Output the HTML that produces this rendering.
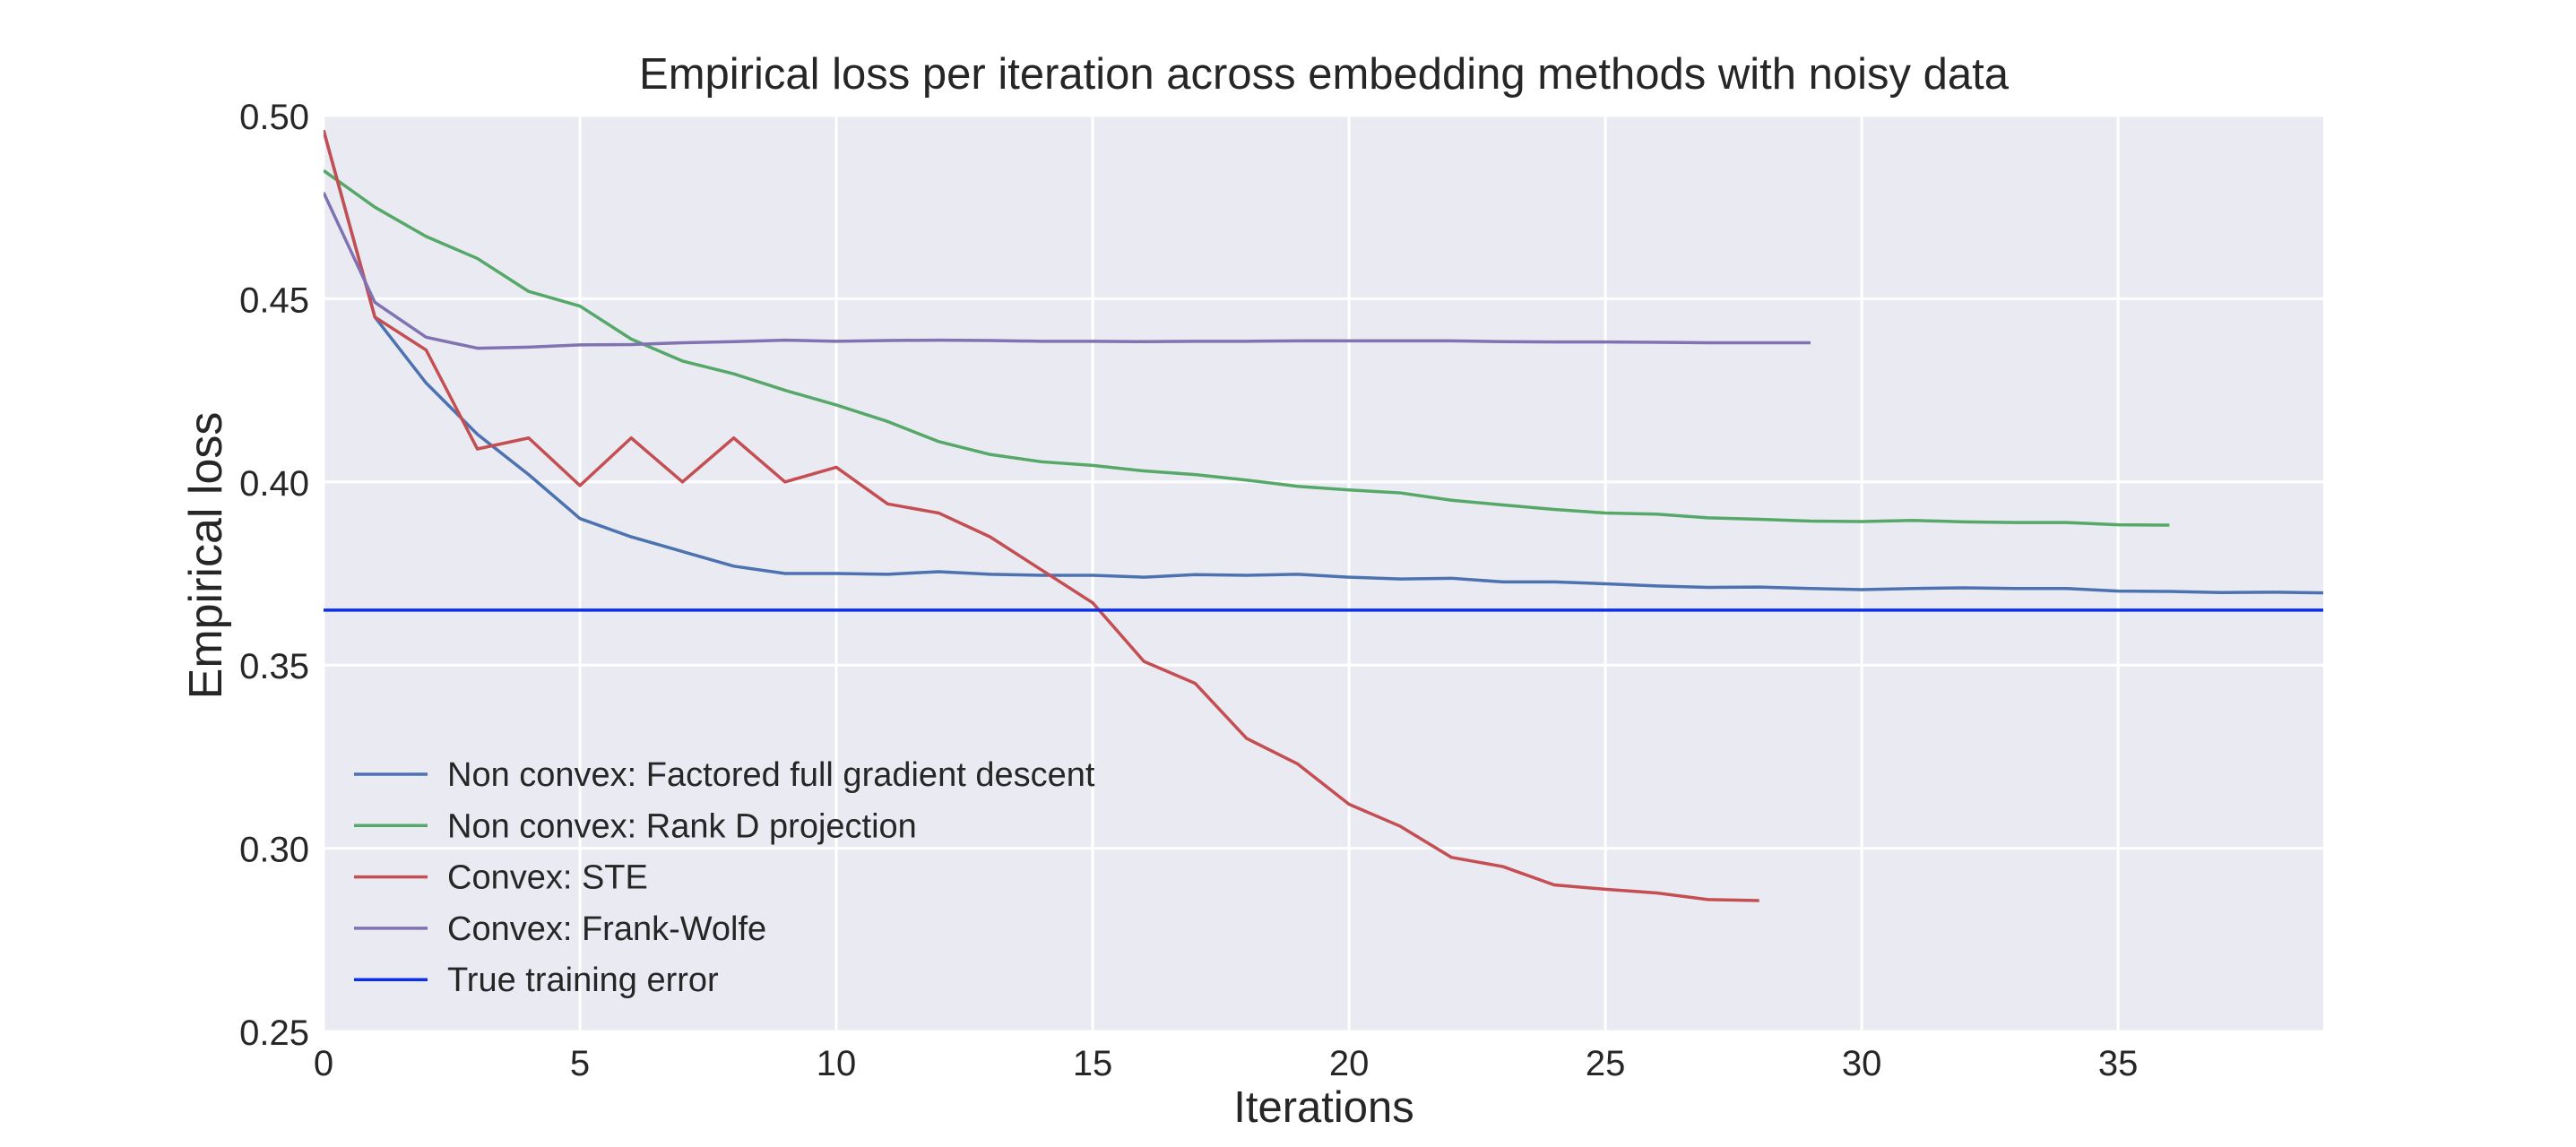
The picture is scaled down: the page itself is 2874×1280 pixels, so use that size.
<!DOCTYPE html>
<html><head><meta charset="utf-8"><style>
html,body{margin:0;padding:0;background:#fff;}
svg{display:block;font-family:"Liberation Sans",Arial,sans-serif;}
</style></head><body>
<svg id="chart" width="2874" height="1280" viewBox="0 0 2874 1280">
<rect x="361" y="129" width="2231" height="1022" fill="#eaeaf2"/>
<g id="grid"></g>
<g id="series"></g>
<g id="ticks"></g>
<text x="1477" y="99" font-size="49" text-anchor="middle" fill="#262626">Empirical loss per iteration across embedding methods with noisy data</text>
<text x="1477" y="1252" font-size="49" text-anchor="middle" fill="#262626">Iterations</text>
<text x="0" y="0" font-size="52" text-anchor="middle" fill="#262626" transform="translate(247,620) rotate(-90)">Empirical loss</text>
<g id="legend"></g>
</svg>
<script>
const xTicks=[0,5,10,15,20,25,30,35];
const yTicks=[0.25,0.30,0.35,0.40,0.45,0.50];
const seriesNames=["Non convex: Factored full gradient descent","Non convex: Rank D projection","Convex: STE","Convex: Frank-Wolfe","True training error"];
const seriesColors=["#4c72b0","#55a868","#c44e52","#8172b2","#0b2ff0"];
const blueVals=[.496,.445,.427,.413,.402,.390,.385,.381,.377,.375,.375,.3748,.3755,.3748,.3745,.3745,.374,.3747,.3745,.3748,.374,.3735,.3737,.3727,.3727,.3722,.3716,.3712,.3713,.3709,.3706,.3709,.3711,.3709,.3709,.3702,.3701,.3698,.3699,.3697];
const greenVals=[.485,.475,.467,.461,.452,.448,.439,.433,.4295,.425,.421,.4165,.411,.4075,.4055,.4045,.403,.402,.4005,.3988,.3978,.397,.395,.3937,.3925,.3915,.3912,.3902,.3898,.3893,.3892,.3895,.3891,.3889,.3889,.3883,.3882];
const redVals=[.496,.445,.436,.409,.412,.399,.412,.400,.412,.400,.404,.394,.3915,.385,.376,.367,.351,.345,.330,.323,.312,.306,.2975,.295,.290,.2888,.2878,.286,.2857];
const purpleVals=[.479,.449,.4395,.4365,.4368,.4374,.4375,.438,.4383,.4387,.4384,.4386,.4387,.4386,.4384,.4384,.4383,.4384,.4384,.4385,.4385,.4385,.4385,.4383,.4382,.4382,.4381,.4380,.4380,.4380];
const trueError=0.365;

const NS="http://www.w3.org/2000/svg";
const L=361,R=2592,T=129,B=1151;
const xMin=0,xMax=39,yMin=0.25,yMax=0.50;
function xs(v){return L+(v-xMin)/(xMax-xMin)*(R-L);}
function ys(v){return B-(v-yMin)/(yMax-yMin)*(B-T);}
function mk(tag,attrs,parent){const e=document.createElementNS(NS,tag);for(const k in attrs)e.setAttribute(k,attrs[k]);parent.appendChild(e);return e;}
const grid=document.getElementById('grid'),ticks=document.getElementById('ticks'),series=document.getElementById('series'),legend=document.getElementById('legend');
xTicks.forEach(v=>{
  const g=mk('line',{x1:xs(v),x2:xs(v),y1:T,y2:B,stroke:'#fff','stroke-width':3},grid);
  
  
  const t=mk('text',{x:xs(v),y:1200,'font-size':40,'text-anchor':'middle',fill:'#262626'},ticks);
  t.textContent=String(v);
  
  
});
yTicks.forEach(v=>{
  const g=mk('line',{x1:L,x2:R,y1:ys(v),y2:ys(v),stroke:'#fff','stroke-width':3},grid);
  
  
  const t=mk('text',{x:345,y:ys(v)+15,'font-size':40,'text-anchor':'end',fill:'#262626'},ticks);
  t.textContent=v.toFixed(2);
  
  
});
const clip=mk('clipPath',{id:'pc'},document.getElementById('chart'));
mk('rect',{x:L,y:T-20,width:R-L,height:B-T+20},clip);
const allVals=[blueVals,greenVals,redVals,purpleVals];
const sNames=['series-factored-gd','series-rank-d','series-ste','series-frank-wolfe'];
allVals.forEach((arr,i)=>{
  const p=mk('polyline',{points:arr.map((v,j)=>xs(j)+','+ys(v)).join(' '),fill:'none',stroke:seriesColors[i],'stroke-width':3.5,'stroke-linejoin':'round','clip-path':'url(#pc)'},series);
  
  
});
const tl=mk('line',{x1:L,x2:R,y1:ys(trueError),y2:ys(trueError),stroke:seriesColors[4],'stroke-width':3.5},series);


seriesNames.forEach((n,i)=>{
  const y=864+i*57.3;
  const l=mk('line',{x1:395,x2:477,y1:y,y2:y,stroke:seriesColors[i],'stroke-width':3.5},legend);
  
  
  const t=mk('text',{x:499,y:y+13,'font-size':38,fill:'#262626'},legend);
  t.textContent=n;
  
  
});
</script>
</body></html>
